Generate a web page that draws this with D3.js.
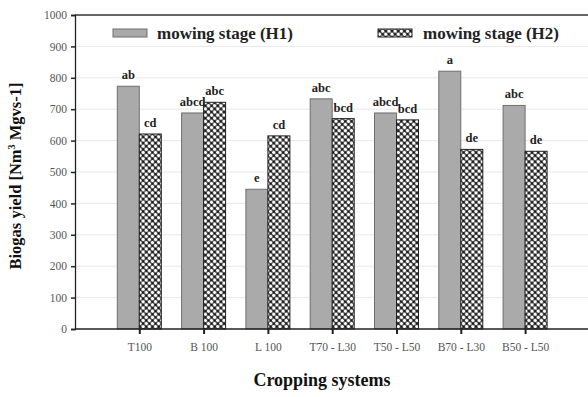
<!DOCTYPE html>
<html><head><meta charset="utf-8">
<script src="https://cdn.jsdelivr.net/npm/d3@7"></script>
<style>body{margin:0;background:#fff}svg{display:block}
text{font-family:"Liberation Serif","Times New Roman","DejaVu Serif",serif}</style>
</head><body>
<script>
const categories = ["T100","B 100","L 100","T70 - L30","T50 - L50","B70 - L30","B50 - L50"];
const h1Values = [773, 688, 445, 733, 688, 821, 712];
const h2Values = [621, 722, 615, 670, 666, 572, 566];
const h1Letters = ["ab","abcd","e","abc","abcd","a","abc"];
const h2Letters = ["cd","abc","cd","bcd","bcd","de","de"];
const yTicks = [0,100,200,300,400,500,600,700,800,900,1000];
const seriesNames = ["mowing stage (H1)","mowing stage (H2)"];

(function(){
const W=588,H=397;
const svg=d3.select("body").append("svg").attr("width",W).attr("height",H);
const defs=svg.append("defs");
const ps=4.4;
const pat=defs.append("pattern").attr("id","hatch").attr("patternUnits","userSpaceOnUse")
  .attr("width",ps).attr("height",ps).attr("patternTransform","rotate(45)");
pat.append("rect").attr("width",ps).attr("height",ps).attr("fill","#1a1a1a");
pat.append("circle").attr("cx",ps/2).attr("cy",ps/2).attr("r",1.8).attr("fill","#fff");

const mLeft=75,mTop=15,mBottom=329,mRight=588;
const x=d3.scaleLinear().domain([0,8]).range([mLeft,mLeft+8*64.3]);
const y=d3.scaleLinear().domain([0,1000]).range([mBottom,mTop]);
const bw=22;

svg.append("g").selectAll("line").data(yTicks.slice(1,-1)).join("line")
  .attr("x1",mLeft).attr("x2",mRight).attr("y1",d=>y(d)).attr("y2",d=>y(d))
  .attr("stroke","#e8e8e8").attr("stroke-width",1);
svg.append("line").attr("x1",mLeft).attr("x2",mRight).attr("y1",y(1000)).attr("y2",y(1000))
  .attr("stroke","#333").attr("stroke-width",1.3);

const g=svg.append("g");
g.selectAll(".h1").data(h1Values).join("rect")
  .attr("x",(d,i)=>x(i+1)-bw).attr("y",d=>y(d)).attr("width",bw).attr("height",d=>y(0)-y(d))
  .attr("fill","#aaaaaa").attr("stroke","#6e6e6e").attr("stroke-width",1);
g.selectAll(".h2").data(h2Values).join("rect")
  .attr("x",(d,i)=>x(i+1)).attr("y",d=>y(d)).attr("width",bw).attr("height",d=>y(0)-y(d))
  .attr("fill","url(#hatch)").attr("stroke","#222").attr("stroke-width",1);

const lf="Liberation Serif";
g.selectAll(".l1").data(h1Values).join("text")
  .attr("x",(d,i)=>x(i+1)-bw/2).attr("y",d=>y(d)-7).attr("text-anchor","middle")
  .attr("font-family",lf).attr("font-weight","bold").attr("font-size",12.5).attr("fill","#222")
  .text((d,i)=>h1Letters[i]);
g.selectAll(".l2").data(h2Values).join("text")
  .attr("x",(d,i)=>x(i+1)+bw/2).attr("y",d=>y(d)-7).attr("text-anchor","middle")
  .attr("font-family",lf).attr("font-weight","bold").attr("font-size",12.5).attr("fill","#222")
  .text((d,i)=>h2Letters[i]);

const ya=svg.append("g").attr("transform",`translate(${mLeft},0)`)
  .call(d3.axisLeft(y).tickValues(yTicks).tickSize(4).tickPadding(4).tickFormat(d3.format("d")));
ya.attr("font-family",lf);
ya.select(".domain").attr("stroke","#222").attr("stroke-width",1.3);
ya.selectAll(".tick line").attr("stroke","#222").attr("stroke-width",1.5);
ya.selectAll("text").attr("font-family",lf).attr("font-size",11.5).attr("fill","#555");

const xa=svg.append("g").attr("transform",`translate(0,${mBottom})`)
  .call(d3.axisBottom(x).tickValues(d3.range(1,8)).tickSize(5).tickSizeOuter(0).tickPadding(9)
  .tickFormat(d=>categories[d-1]));
xa.attr("font-family",lf);
xa.select(".domain").attr("stroke","#222").attr("stroke-width",1.3).attr("d",`M${mLeft},0H${mRight}`);
xa.selectAll(".tick line").attr("stroke","#222").attr("stroke-width",2);
xa.selectAll("text").attr("font-family",lf).attr("font-size",11.5).attr("fill","#555");

const leg=[{x:113,tx:157,fill:"#aaaaaa",stroke:"#6e6e6e"},{x:378,tx:423,fill:"url(#hatch)",stroke:"#222"}];
leg.forEach((l,i)=>{
  svg.append("rect").attr("x",l.x).attr("y",29).attr("width",34).attr("height",8)
    .attr("fill",l.fill).attr("stroke",l.stroke).attr("stroke-width",1);
  svg.append("text").attr("x",l.tx).attr("y",39).attr("font-family",lf).attr("font-weight","bold")
    .attr("font-size",17).attr("fill","#222").text(seriesNames[i]);
});

const yt=svg.append("text").attr("transform","translate(21,176) rotate(-90)").attr("text-anchor","middle")
  .attr("font-family",lf).attr("font-weight","bold").attr("font-size",16.5).attr("fill","#111");
yt.append("tspan").text("Biogas yield [Nm");
yt.append("tspan").attr("font-size",10).attr("dy",-6).text("3");
yt.append("tspan").attr("dy",6).text(" Mgvs-1]");
svg.append("text").attr("x",322).attr("y",386).attr("text-anchor","middle")
  .attr("font-family",lf).attr("font-weight","bold").attr("font-size",18).attr("fill","#111")
  .text("Cropping systems");
})();
</script>
</body></html>
